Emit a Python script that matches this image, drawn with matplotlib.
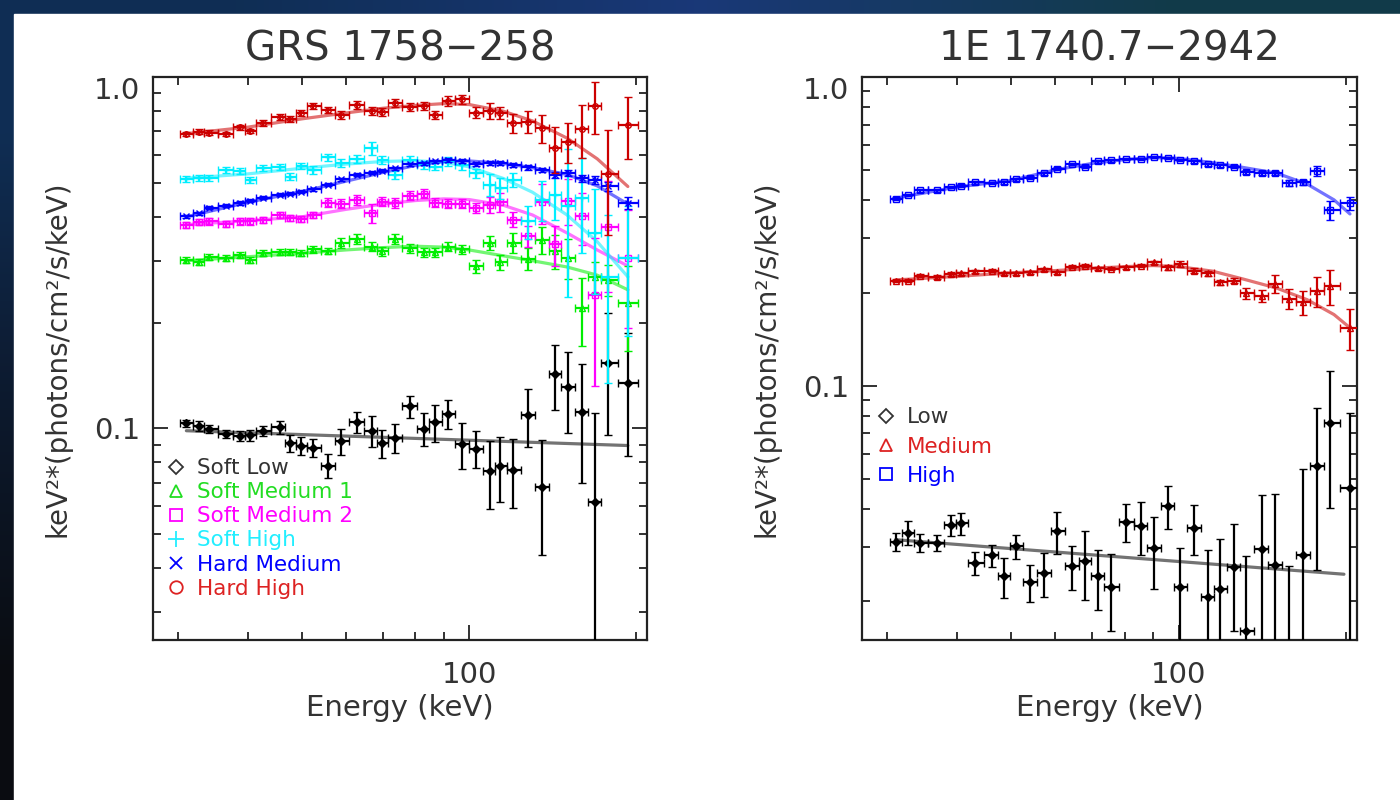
import numpy as np
import matplotlib
matplotlib.use('Agg')
import matplotlib.pyplot as plt
from matplotlib.lines import Line2D
from matplotlib.patches import Rectangle
from matplotlib.ticker import LogLocator, NullFormatter

# ---- GRS 1758-258 (left panel) ----
energy_grs = [31.0, 32.7, 34.1, 36.5, 38.7, 40.3, 42.5, 45.6, 47.6, 49.9, 52.4, 55.8,
              58.9, 62.9, 66.8, 69.6, 73.5, 78.2, 82.9, 86.8, 91.7, 96.9, 103.1, 109.0,
              113.6, 120.0, 127.7, 135.5, 142.6, 150.7, 159.3, 168.3, 177.8, 193.2]

soft_low = [0.1033, 0.1018, 0.0999, 0.0963, 0.0951, 0.0955, 0.0983, 0.1007, 0.0906, 0.0891,
            0.0881, 0.0783, 0.0920, 0.1040, 0.0983, 0.0906, 0.0941, 0.1157, 0.0999, 0.1040,
            0.1099, 0.0901, 0.0876, 0.0756, 0.0781, 0.0763, 0.109, 0.0682, 0.143, 0.131,
            0.111, 0.0616, 0.154, 0.135]
soft_low_err = [0.022, 0.033, 0.026, 0.026, 0.033, 0.033, 0.033, 0.04, 0.056, 0.06, 0.06, 0.08,
                0.086, 0.068, 0.10, 0.09, 0.095, 0.072, 0.11, 0.12, 0.095, 0.15, 0.12, 0.22,
                0.21, 0.22, 0.19, 0.36, 0.21, 0.26, 0.37, 0.8, 0.38, 0.38]

soft_med1 = [0.302, 0.297, 0.308, 0.306, 0.312, 0.302, 0.316, 0.317, 0.317, 0.316, 0.323, 0.319,
             0.337, 0.346, 0.329, 0.319, 0.346, 0.326, 0.317, 0.317, 0.329, 0.323, 0.289, 0.337,
             0.297, 0.337, 0.304, 0.344, 0.32, 0.306, 0.220, 0.270, 0.265, 0.228]
soft_med1_err = [0.02, 0.02, 0.02, 0.02, 0.02, 0.02, 0.02, 0.02, 0.02, 0.02, 0.02, 0.02,
                 0.03, 0.03, 0.03, 0.03, 0.03, 0.03, 0.03, 0.03, 0.03, 0.03, 0.04, 0.045,
                 0.05, 0.065, 0.07, 0.09, 0.11, 0.13, 0.22, 0.1, 0.1, 0.27]

soft_med2 = [0.380, 0.386, 0.388, 0.382, 0.388, 0.388, 0.393, 0.406, 0.397, 0.394, 0.406, 0.439,
             0.436, 0.447, 0.410, 0.442, 0.438, 0.459, 0.466, 0.439, 0.436, 0.436, 0.424, 0.433,
             0.44, 0.393, 0.352, 0.44, 0.334, 0.445, 0.401, 0.240, 0.375, 0.306]
soft_med2_err = [0.02, 0.02, 0.02, 0.02, 0.02, 0.02, 0.02, 0.02, 0.02, 0.02, 0.02, 0.03,
                 0.03, 0.03, 0.06, 0.03, 0.03, 0.03, 0.03, 0.03, 0.03, 0.03, 0.035, 0.05,
                 0.06, 0.05, 0.07, 0.13, 0.13, 0.15, 0.17, 0.45, 0.35, 0.37]

soft_high = [0.512, 0.515, 0.515, 0.544, 0.541, 0.510, 0.550, 0.556, 0.521, 0.559, 0.544, 0.591,
             0.569, 0.584, 0.627, 0.581, 0.527, 0.581, 0.562, 0.556, 0.575, 0.562, 0.533, 0.494,
             0.483, 0.510, 0.388, 0.447, 0.462, 0.430, 0.452, 0.360, 0.270, 0.306]
soft_high_err = [0.02, 0.02, 0.02, 0.02, 0.02, 0.02, 0.02, 0.02, 0.02, 0.02, 0.025, 0.025,
                 0.025, 0.025, 0.044, 0.025, 0.025, 0.025, 0.025, 0.025, 0.03, 0.03, 0.03, 0.07,
                 0.07, 0.045, 0.11, 0.13, 0.15, 0.45, 0.30, 0.33, 0.5, 0.4]

hard_med = [0.401, 0.410, 0.424, 0.430, 0.438, 0.445, 0.454, 0.462, 0.466, 0.472, 0.480, 0.494,
            0.512, 0.527, 0.534, 0.541, 0.550, 0.565, 0.569, 0.575, 0.581, 0.578, 0.566, 0.569,
            0.569, 0.562, 0.553, 0.544, 0.527, 0.533, 0.515, 0.510, 0.488, 0.438]
hard_med_err = [0.01, 0.01, 0.01, 0.01, 0.01, 0.01, 0.01, 0.01, 0.01, 0.01, 0.01, 0.01,
                0.01, 0.01, 0.01, 0.01, 0.01, 0.01, 0.01, 0.01, 0.012, 0.012, 0.012, 0.012,
                0.012, 0.012, 0.015, 0.015, 0.02, 0.02, 0.025, 0.025, 0.03, 0.04]

hard_high = [0.689, 0.699, 0.695, 0.689, 0.719, 0.703, 0.742, 0.771, 0.760, 0.792, 0.827, 0.806,
             0.780, 0.833, 0.802, 0.795, 0.842, 0.823, 0.827, 0.780, 0.855, 0.864, 0.792, 0.802,
             0.789, 0.739, 0.747, 0.715, 0.627, 0.655, 0.710, 0.827, 0.530, 0.731]
hard_high_err = [0.015, 0.015, 0.015, 0.015, 0.015, 0.015, 0.02, 0.02, 0.02, 0.02, 0.02, 0.02,
                 0.025, 0.025, 0.025, 0.025, 0.025, 0.025, 0.025, 0.025, 0.03, 0.03, 0.035, 0.05,
                 0.04, 0.065, 0.07, 0.09, 0.15, 0.13, 0.17, 0.17, 0.33, 0.2]

# fitted models, GRS 1758-258
fit_energy_grs = [31, 40, 50, 60, 70, 80, 90, 100, 115, 130, 150, 170, 193]
fit_hard_high = [0.69, 0.72, 0.76, 0.79, 0.815, 0.83, 0.84, 0.835, 0.80, 0.75, 0.67, 0.585, 0.488]
fit_hard_med = [0.40, 0.44, 0.472, 0.505, 0.535, 0.56, 0.575, 0.577, 0.568, 0.552, 0.528, 0.49, 0.435]
fit_soft_high = [0.515, 0.53, 0.55, 0.565, 0.575, 0.578, 0.572, 0.555, 0.515, 0.47, 0.405, 0.34, 0.27]
fit_soft_med2 = [0.38, 0.39, 0.40, 0.42, 0.435, 0.445, 0.45, 0.448, 0.432, 0.405, 0.36, 0.322, 0.29]
fit_soft_med1 = [0.30, 0.308, 0.315, 0.322, 0.327, 0.33, 0.328, 0.322, 0.31, 0.30, 0.288, 0.273, 0.248]
fit_low_energy_grs = [31, 193]
fit_soft_low = [0.0985, 0.0894]

# ---- 1E 1740.7-2942 (right panel) ----
energy_1e = [31.1, 32.7, 34.3, 36.8, 39.0, 40.7, 43.1, 46.3, 48.6, 51.1, 54.1, 57.3,
             60.5, 64.3, 68.0, 71.5, 75.7, 80.5, 85.5, 90.3, 95.6, 100.7, 106.7, 112.9,
             118.7, 125.8, 132.2, 141.0, 148.8, 158.0, 167.3, 177.1, 187.1, 202.9]

low_1e = [0.0312, 0.0334, 0.0310, 0.0310, 0.0354, 0.0358, 0.0267, 0.0282, 0.0241, 0.0302,
          0.0231, 0.0247, 0.0338, 0.0260, 0.0270, 0.0241, 0.0222, 0.0363, 0.0351, 0.0297,
          0.0408, 0.0222, 0.0347, 0.0206, 0.0220, 0.0258, 0.0160, 0.0295, 0.0263, 0.013,
          0.0282, 0.0548, 0.0759, 0.0467]
low_1e_err = [0.067, 0.089, 0.07, 0.057, 0.078, 0.08, 0.085, 0.08, 0.15, 0.09, 0.14, 0.16,
              0.156, 0.165, 0.25, 0.22, 0.28, 0.14, 0.195, 0.26, 0.156, 0.34, 0.186, 0.42,
              0.45, 0.38, 0.75, 0.5, 0.7, 1.0, 0.9, 0.54, 0.47, 0.75]

medium_1e = [0.219, 0.219, 0.227, 0.225, 0.230, 0.231, 0.235, 0.236, 0.231, 0.231, 0.233, 0.238,
             0.233, 0.243, 0.245, 0.240, 0.239, 0.242, 0.245, 0.251, 0.242, 0.248, 0.236, 0.231,
             0.216, 0.219, 0.199, 0.195, 0.214, 0.191, 0.186, 0.202, 0.210, 0.154]
medium_1e_err = [0.012, 0.012, 0.012, 0.012, 0.012, 0.012, 0.012, 0.012, 0.012, 0.012, 0.012, 0.012,
                 0.012, 0.012, 0.012, 0.012, 0.012, 0.012, 0.012, 0.012, 0.02, 0.02, 0.02, 0.02,
                 0.02, 0.02, 0.04, 0.045, 0.066, 0.075, 0.09, 0.11, 0.13, 0.15]

high_1e = [0.404, 0.415, 0.429, 0.429, 0.440, 0.445, 0.456, 0.454, 0.456, 0.466, 0.472, 0.487,
           0.505, 0.523, 0.512, 0.533, 0.537, 0.543, 0.542, 0.550, 0.546, 0.539, 0.533, 0.521,
           0.517, 0.512, 0.492, 0.490, 0.487, 0.454, 0.456, 0.496, 0.371, 0.390]
high_1e_err = [0.01, 0.01, 0.01, 0.01, 0.01, 0.01, 0.01, 0.01, 0.01, 0.01, 0.01, 0.01,
               0.01, 0.01, 0.01, 0.01, 0.01, 0.01, 0.01, 0.01, 0.01, 0.01, 0.01, 0.01,
               0.01, 0.01, 0.015, 0.015, 0.015, 0.02, 0.02, 0.04, 0.07, 0.05]

fit_energy_1e = [31, 40, 50, 60, 70, 80, 90, 100, 115, 130, 150, 170, 190, 203]
fit_high_1e = [0.405, 0.44, 0.462, 0.50, 0.525, 0.54, 0.548, 0.545, 0.528, 0.51, 0.488, 0.45, 0.40, 0.36]
fit_medium_1e = [0.22, 0.226, 0.232, 0.236, 0.24, 0.243, 0.245, 0.243, 0.235, 0.222, 0.207, 0.19, 0.17, 0.154]
fit_low_energy_1e = [31, 198]
fit_low_1e = [0.0317, 0.0245]

GREEN = '#00ee00'
MAGENTA = '#ff00ff'
CYAN = '#00eeff'
BLUE = '#0000ff'
RED = '#cc0000'
BLACK = '#000000'
TEXT = '#333333'


def half_widths(energy):
    """x error bars: bin edges half way (in log) between neighbouring bins"""
    e = np.asarray(energy, dtype=float)
    mids = np.sqrt(e[:-1] * e[1:])
    lo = np.concatenate([[e[0] ** 2 / mids[0]], mids])
    hi = np.concatenate([mids, [e[-1] ** 2 / mids[-1]]])
    return e - lo, hi - e


def draw_series(ax, energy, values, rel_err, color, marker, filled=False, z=3, ms=4):
    v = np.asarray(values)
    yerr = v * np.asarray(rel_err)
    xlo, xhi = half_widths(energy)
    ax.errorbar(energy, v, yerr=yerr, xerr=[xlo, xhi], fmt=marker, color=color,
                ms=ms, mfc=color if filled else 'none', mec=color, mew=1.0,
                elinewidth=1.6, capsize=3, capthick=1.6, zorder=z)


def draw_fit(ax, energy, values, color):
    ax.plot(energy, values, color=color, lw=2.3, alpha=0.55, zorder=2,
            solid_capstyle='round')


def style_axes(ax, ylim, title):
    ax.set_xscale('log')
    ax.set_yscale('log')
    ax.set_xlim(27, 209)
    ax.set_ylim(*ylim)
    ax.set_xticks([100])
    ax.set_xticklabels(['100'])
    ax.xaxis.set_minor_locator(LogLocator(base=10, subs=np.arange(2, 10), numticks=20))
    ax.xaxis.set_minor_formatter(NullFormatter())
    ax.set_yticks([0.1, 1.0])
    ax.set_yticklabels(['0.1', '1.0'])
    ax.yaxis.set_minor_locator(LogLocator(base=10, subs=np.arange(2, 10), numticks=20))
    ax.yaxis.set_minor_formatter(NullFormatter())
    ax.tick_params(which='both', direction='in', top=True, right=True,
                   color='#222222', width=1.3)
    ax.tick_params(which='major', length=11)
    ax.tick_params(which='minor', length=6)
    ax.tick_params(axis='x', which='major', pad=15, labelsize=21, labelcolor=TEXT)
    ax.tick_params(axis='y', which='major', pad=9, labelsize=21, labelcolor=TEXT)
    for lbl in ax.get_yticklabels():
        if lbl.get_text() == '1.0':
            lbl.set_verticalalignment('top')
    for sp in ax.spines.values():
        sp.set_linewidth(1.6)
        sp.set_color('#222222')
    ax.set_xlabel('Energy (keV)', fontsize=21, color=TEXT, labelpad=4)
    ax.set_ylabel('keV²*(photons/cm²/s/keV)', fontsize=20, color=TEXT)
    ax.yaxis.set_label_coords(-0.165, 0.5)
    ax.set_title(title, fontsize=29, color=TEXT, pad=12)


def legend(ax, entries, anchor, spacing):
    handles = [Line2D([], [], marker=m, ls='none', mfc='none', mec=c, mew=1.3, ms=ms)
               for _, c, m, ms in entries]
    leg = ax.legend(handles, [lab for lab, _, _, _ in entries], loc='upper left',
                    bbox_to_anchor=anchor, frameon=False, fontsize=15.5,
                    labelcolor=[c for _, c, _, _ in entries], handlelength=0.8,
                    handletextpad=0.55, labelspacing=spacing, borderpad=0,
                    borderaxespad=0)
    leg.set_zorder(10)


fig = plt.figure(figsize=(14, 8), dpi=100)

# dark presentation-slide frame (top and left edge)
bg = fig.add_axes([0, 0, 1, 1], zorder=-10)
bg.axis('off')
top_band = np.array([[[0.06, 0.18, 0.33], [0.10, 0.22, 0.47], [0.07, 0.23, 0.29]]])
left_band = np.array([[[0.06, 0.18, 0.33]], [[0.05, 0.10, 0.18]], [[0.04, 0.05, 0.07]]])
bg.imshow(left_band, extent=(0, 1400, 800, 0), aspect='auto', interpolation='bilinear')
bg.imshow(top_band, extent=(0, 1400, 14, 0), aspect='auto', interpolation='bilinear')
bg.add_patch(Rectangle((14, 14), 1386, 786, color='white'))
bg.set_xlim(0, 1400)
bg.set_ylim(800, 0)

ax1 = fig.add_axes([0.1093, 0.2, 0.3529, 0.70375])
ax2 = fig.add_axes([0.6157, 0.2, 0.3536, 0.70375])

# left panel
ax1.set_xscale('log')
ax1.set_yscale('log')
draw_fit(ax1, fit_low_energy_grs, fit_soft_low, BLACK)
draw_fit(ax1, fit_energy_grs, fit_soft_med1, GREEN)
draw_fit(ax1, fit_energy_grs, fit_soft_med2, MAGENTA)
draw_fit(ax1, fit_energy_grs, fit_soft_high, CYAN)
draw_fit(ax1, fit_energy_grs, fit_hard_med, BLUE)
draw_fit(ax1, fit_energy_grs, fit_hard_high, RED)
draw_series(ax1, energy_grs, soft_low, soft_low_err, BLACK, 'D', filled=True, z=3)
draw_series(ax1, energy_grs, soft_med1, soft_med1_err, GREEN, '^', z=4)
draw_series(ax1, energy_grs, soft_med2, soft_med2_err, MAGENTA, 's', z=5)
draw_series(ax1, energy_grs, soft_high, soft_high_err, CYAN, '+', z=6)
draw_series(ax1, energy_grs, hard_med, hard_med_err, BLUE, 'x', z=7)
draw_series(ax1, energy_grs, hard_high, hard_high_err, RED, 'o', z=8)
style_axes(ax1, (0.025, 1.0), 'GRS 1758−258')
legend(ax1, [('Soft Low', '#333333', 'D', 7),
             ('Soft Medium 1', '#22dd22', '^', 9),
             ('Soft Medium 2', MAGENTA, 's', 9),
             ('Soft High', '#22eeff', '+', 11),
             ('Hard Medium', BLUE, 'x', 9),
             ('Hard High', '#dd2222', 'o', 9)],
       (0.03, 0.323), 0.19)

# right panel
ax2.set_xscale('log')
ax2.set_yscale('log')
draw_fit(ax2, fit_low_energy_1e, fit_low_1e, BLACK)
draw_fit(ax2, fit_energy_1e, fit_medium_1e, RED)
draw_fit(ax2, fit_energy_1e, fit_high_1e, BLUE)
draw_series(ax2, energy_1e, low_1e, low_1e_err, BLACK, 'D', filled=True, z=3)
draw_series(ax2, energy_1e, medium_1e, medium_1e_err, RED, '^', z=4, ms=5)
draw_series(ax2, energy_1e, high_1e, high_1e_err, BLUE, 's', z=5, ms=5)
style_axes(ax2, (0.015, 1.0), '1E 1740.7−2942')
legend(ax2, [('Low', '#333333', 'D', 7),
             ('Medium', '#dd2222', '^', 9),
             ('High', BLUE, 's', 9)],
       (0.032, 0.413), 0.42)

fig.savefig('out.png', dpi=100)
